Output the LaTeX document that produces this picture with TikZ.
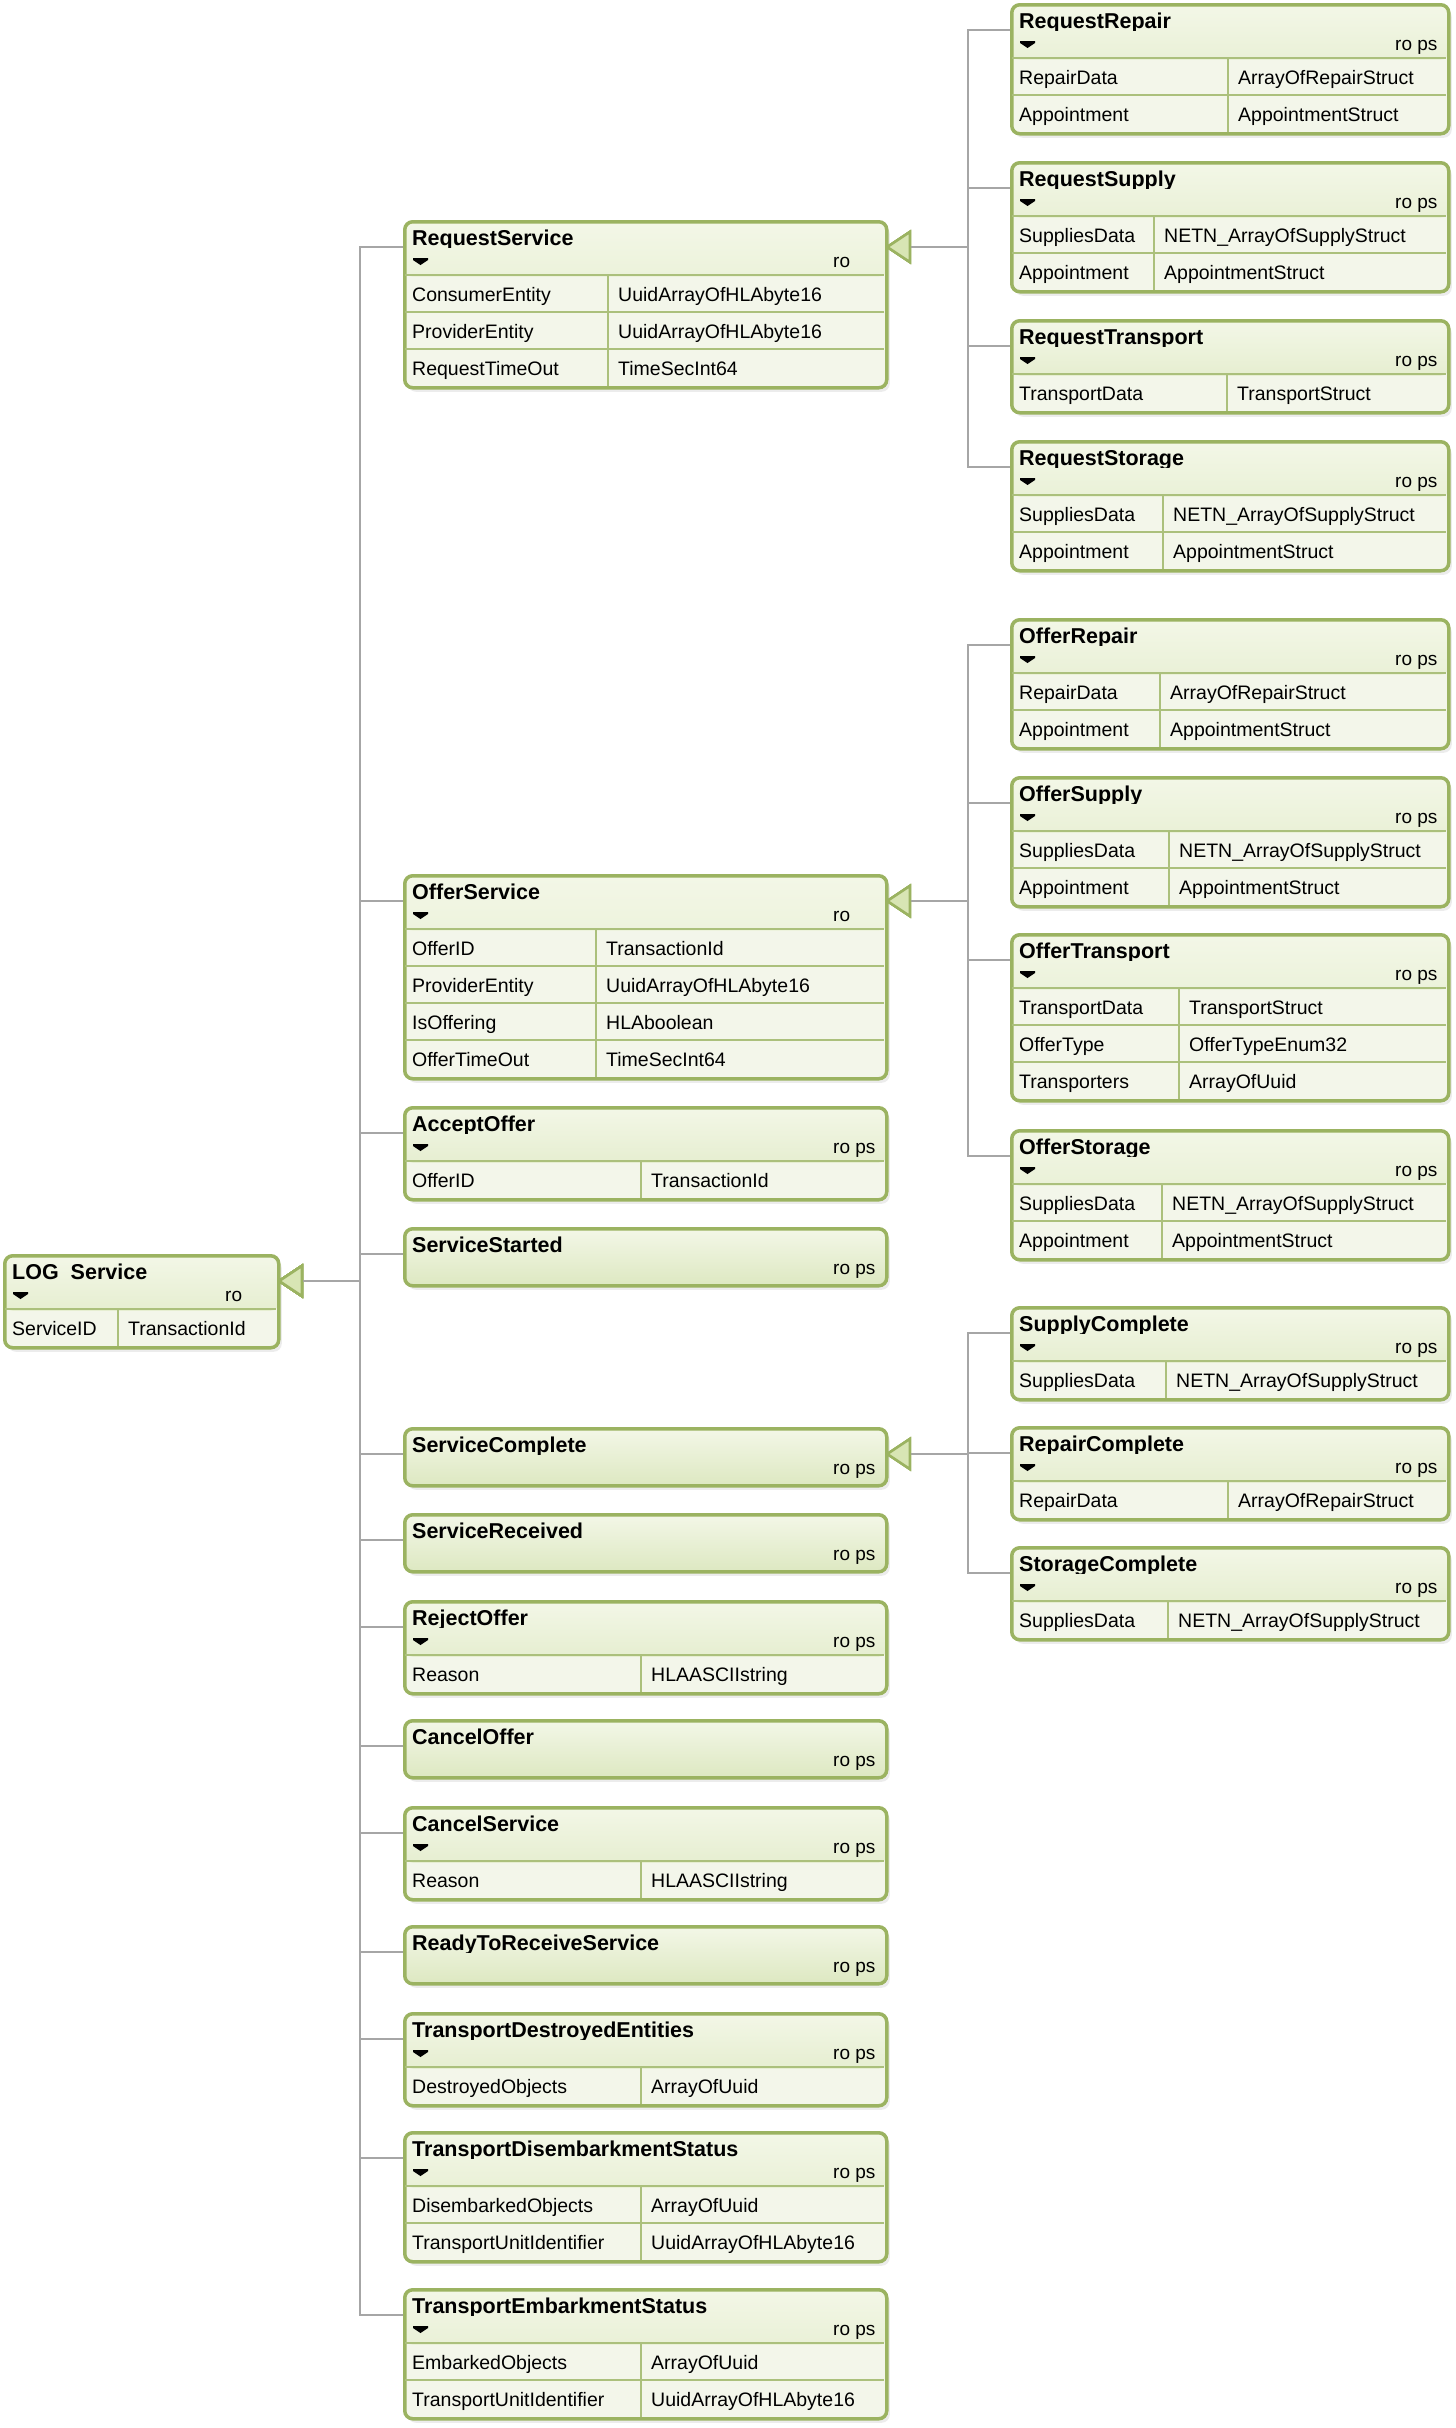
\documentclass[tikz,border=0pt]{standalone}
\usepackage{fontspec}
\setmainfont{Liberation Sans}
\usepackage{xcolor}
\usepackage{tikz}
\usetikzlibrary{arrows.meta, shadows}

\definecolor{umlgreen}{HTML}{9BB361}
\definecolor{rowgreen}{HTML}{ABC07C}
\definecolor{headtop}{HTML}{F3F7E7}
\definecolor{headbottom}{HTML}{DDE8C1}
\definecolor{bodyfill}{HTML}{F3F6EA}
\definecolor{trifill}{HTML}{D8E5B4}
\definecolor{linegray}{HTML}{A6A6A6}

% class box: name, x, y (top), width, title, flags, divider, rows, row list
\newcommand{\umlclass}[9]{%
  \pgfmathsetmacro{\boxh}{ifthenelse(#8==0,57,55+37*#8)}
  \node[classbox, minimum width=#4pt, minimum height=\boxh pt, anchor=north west] (#1) at (#2,#3) {};
  \begin{scope}
    \clip (#2,#3) rectangle ++(#4,27);
    \node[headtext] (#1-title) at (#2+9,#3+25) {#5};
  \end{scope}
  \node[flagtext] (#1-flags) at (#2+#4-52,#3+47) {#6};
  \ifnum#8>0
    \fill (#2+10,#3+38) -- ++(15,0) -- ++(0,2) -- ++(-7.5,5) -- ++(-7.5,-5) -- cycle;
    \foreach \a/\b [count=\i from 0] in {#9} {
      \pgfmathsetmacro{\rowy}{#3+55+37*\i}
      \draw[rowline] (#2+1.5,\rowy) -- ++(#4-3,0);
      \draw[rowline] (#2+#7,\rowy) -- ++(0,37);
      \node[rowtext] (#1-a\i) at (#2+9,\rowy+26) {\a};
      \node[rowtext] (#1-b\i) at (#2+#7+10,\rowy+26) {\b};
    }
  \fi
  \coordinate (#1-in) at (#2,#3+27);
  \coordinate (#1-out) at (#2+#4,#3+27);
}

\begin{document}
\begin{tikzpicture}[x=1pt, y=-1pt]
\tikzstyle{classbox} = [rectangle, rounded corners=8pt, draw=umlgreen, line width=3.5pt, fill=bodyfill, inner sep=0pt,
  drop shadow={shadow xshift=3pt, shadow yshift=-4pt, opacity=0.15},
  path picture={\shade[top color=headtop, bottom color=headbottom] (path picture bounding box.north west) rectangle ([yshift=-55pt]path picture bounding box.north east);}]
\tikzstyle{headtext} = [anchor=base west, inner sep=0pt, font=\fontsize{21.5}{26}\selectfont\bfseries]
\tikzstyle{rowtext} = [anchor=base west, inner sep=0pt, font=\fontsize{19.5}{23}\selectfont]
\tikzstyle{flagtext} = [anchor=base west, inner sep=0pt, font=\fontsize{19}{23}\selectfont]
\tikzstyle{rowline} = [draw=rowgreen, line width=1.5pt]
\tikzstyle{inherit} = [draw=linegray, line width=2pt, -{Triangle[length=26pt, width=34pt, color=umlgreen, fill=trifill, line width=2.5pt]}]

\useasboundingbox (0,0) rectangle (1456,2428);

\umlclass{logService}{3}{1254}{274}{LOG\ \ Service}{ro}{115}{1}{ServiceID/TransactionId}

\umlclass{requestService}{403}{220}{482}{RequestService}{ro}{205}{3}{ConsumerEntity/UuidArrayOfHLAbyte16, ProviderEntity/UuidArrayOfHLAbyte16, RequestTimeOut/TimeSecInt64}
\umlclass{offerService}{403}{874}{482}{OfferService}{ro}{193}{4}{OfferID/TransactionId, ProviderEntity/UuidArrayOfHLAbyte16, IsOffering/HLAboolean, OfferTimeOut/TimeSecInt64}
\umlclass{acceptOffer}{403}{1106}{482}{AcceptOffer}{ro ps}{238}{1}{OfferID/TransactionId}
\umlclass{serviceStarted}{403}{1227}{482}{ServiceStarted}{ro ps}{0}{0}{}
\umlclass{serviceComplete}{403}{1427}{482}{ServiceComplete}{ro ps}{0}{0}{}
\umlclass{serviceReceived}{403}{1513}{482}{ServiceReceived}{ro ps}{0}{0}{}
\umlclass{rejectOffer}{403}{1600}{482}{RejectOffer}{ro ps}{238}{1}{Reason/HLAASCIIstring}
\umlclass{cancelOffer}{403}{1719}{482}{CancelOffer}{ro ps}{0}{0}{}
\umlclass{cancelService}{403}{1806}{482}{CancelService}{ro ps}{238}{1}{Reason/HLAASCIIstring}
\umlclass{readyToReceive}{403}{1925}{482}{ReadyToReceiveService}{ro ps}{0}{0}{}
\umlclass{transportDestroyed}{403}{2012}{482}{TransportDestroyedEntities}{ro ps}{238}{1}{DestroyedObjects/ArrayOfUuid}
\umlclass{transportDisembark}{403}{2131}{482}{TransportDisembarkmentStatus}{ro ps}{238}{2}{DisembarkedObjects/ArrayOfUuid, TransportUnitIdentifier/UuidArrayOfHLAbyte16}
\umlclass{transportEmbark}{403}{2288}{482}{TransportEmbarkmentStatus}{ro ps}{238}{2}{EmbarkedObjects/ArrayOfUuid, TransportUnitIdentifier/UuidArrayOfHLAbyte16}

\umlclass{requestRepair}{1010}{3}{437}{RequestRepair}{ro ps}{218}{2}{RepairData/ArrayOfRepairStruct, Appointment/AppointmentStruct}
\umlclass{requestSupply}{1010}{161}{437}{RequestSupply}{ro ps}{144}{2}{SuppliesData/NETN\_ArrayOfSupplyStruct, Appointment/AppointmentStruct}
\umlclass{requestTransport}{1010}{319}{437}{RequestTransport}{ro ps}{217}{1}{TransportData/TransportStruct}
\umlclass{requestStorage}{1010}{440}{437}{RequestStorage}{ro ps}{153}{2}{SuppliesData/NETN\_ArrayOfSupplyStruct, Appointment/AppointmentStruct}
\umlclass{offerRepair}{1010}{618}{437}{OfferRepair}{ro ps}{150}{2}{RepairData/ArrayOfRepairStruct, Appointment/AppointmentStruct}
\umlclass{offerSupply}{1010}{776}{437}{OfferSupply}{ro ps}{159}{2}{SuppliesData/NETN\_ArrayOfSupplyStruct, Appointment/AppointmentStruct}
\umlclass{offerTransport}{1010}{933}{437}{OfferTransport}{ro ps}{169}{3}{TransportData/TransportStruct, OfferType/OfferTypeEnum32, Transporters/ArrayOfUuid}
\umlclass{offerStorage}{1010}{1129}{437}{OfferStorage}{ro ps}{152}{2}{SuppliesData/NETN\_ArrayOfSupplyStruct, Appointment/AppointmentStruct}
\umlclass{supplyComplete}{1010}{1306}{437}{SupplyComplete}{ro ps}{156}{1}{SuppliesData/NETN\_ArrayOfSupplyStruct}
\umlclass{repairComplete}{1010}{1426}{437}{RepairComplete}{ro ps}{218}{1}{RepairData/ArrayOfRepairStruct}
\umlclass{storageComplete}{1010}{1546}{437}{StorageComplete}{ro ps}{158}{1}{SuppliesData/NETN\_ArrayOfSupplyStruct}

% LOG Service children
\draw [inherit] (requestService-in) -- ++(-43,0) |- (logService-out);
\draw [inherit] (offerService-in) -- ++(-43,0) |- (logService-out);
\draw [inherit] (acceptOffer-in) -- ++(-43,0) |- (logService-out);
\draw [inherit] (serviceStarted-in) -- ++(-43,0) |- (logService-out);
\draw [inherit] (serviceComplete-in) -- ++(-43,0) |- (logService-out);
\draw [inherit] (serviceReceived-in) -- ++(-43,0) |- (logService-out);
\draw [inherit] (rejectOffer-in) -- ++(-43,0) |- (logService-out);
\draw [inherit] (cancelOffer-in) -- ++(-43,0) |- (logService-out);
\draw [inherit] (cancelService-in) -- ++(-43,0) |- (logService-out);
\draw [inherit] (readyToReceive-in) -- ++(-43,0) |- (logService-out);
\draw [inherit] (transportDestroyed-in) -- ++(-43,0) |- (logService-out);
\draw [inherit] (transportDisembark-in) -- ++(-43,0) |- (logService-out);
\draw [inherit] (transportEmbark-in) -- ++(-43,0) |- (logService-out);

% RequestService children
\draw [inherit] (requestRepair-in) -- ++(-42,0) |- (requestService-out);
\draw [inherit] (requestSupply-in) -- ++(-42,0) |- (requestService-out);
\draw [inherit] (requestTransport-in) -- ++(-42,0) |- (requestService-out);
\draw [inherit] (requestStorage-in) -- ++(-42,0) |- (requestService-out);

% OfferService children
\draw [inherit] (offerRepair-in) -- ++(-42,0) |- (offerService-out);
\draw [inherit] (offerSupply-in) -- ++(-42,0) |- (offerService-out);
\draw [inherit] (offerTransport-in) -- ++(-42,0) |- (offerService-out);
\draw [inherit] (offerStorage-in) -- ++(-42,0) |- (offerService-out);

% ServiceComplete children
\draw [inherit] (supplyComplete-in) -- ++(-42,0) |- (serviceComplete-out);
\draw [inherit] (repairComplete-in) -- ++(-42,0) |- (serviceComplete-out);
\draw [inherit] (storageComplete-in) -- ++(-42,0) |- (serviceComplete-out);

\end{tikzpicture}
\end{document}
